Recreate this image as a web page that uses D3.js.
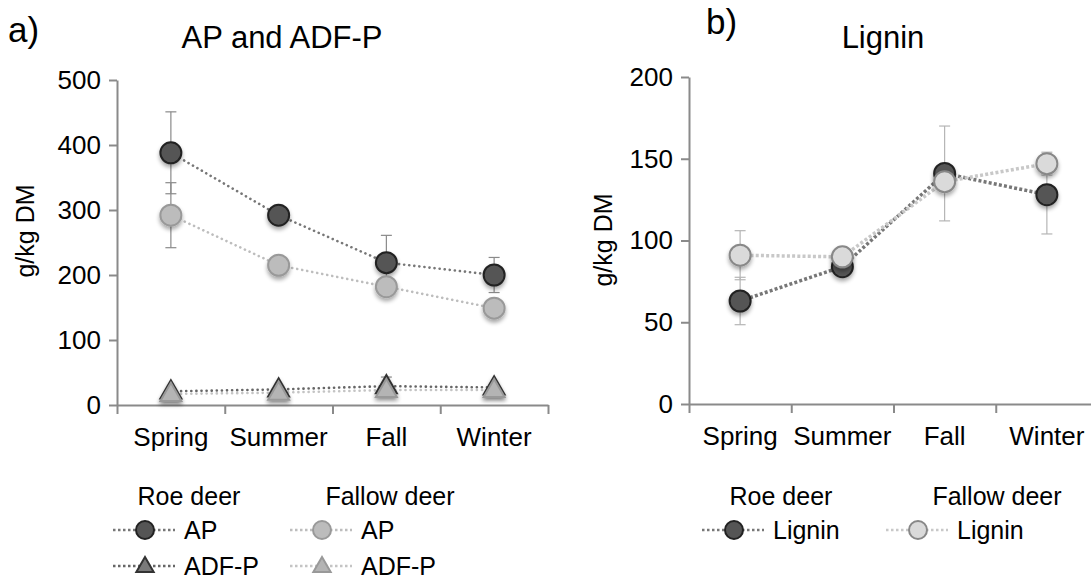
<!DOCTYPE html>
<html>
<head>
<meta charset="utf-8">
<script src="https://cdn.jsdelivr.net/npm/d3@7"></script>
<style>
  html, body { margin: 0; padding: 0; background: #fff; }
  svg { display: block; font-family: "Liberation Sans", Arial, sans-serif; }
</style>
</head>
<body>
<svg id="chart" width="1091" height="580"></svg>
<script>
// Seasonal nutrient content of roe deer and fallow deer diets (g/kg DM, mean ± SE)
const seasons = ["Spring", "Summer", "Fall", "Winter"];

const roeAP = [388, 292, 219, 200];
const roeAPse = [63, 10, 42, 27];
const fallowAP = [292, 215, 182, 149];
const fallowAPse = [50, 10, 8, 8];

const roeADFP = [21, 24, 29, 27];
const roeADFPse = [3, 4, 14, 4];
const fallowADFP = [17, 19, 23, 23];
const fallowADFPse = [3, 3, 4, 3];

const roeLignin = [63, 84, 141, 128];
const roeLigninSe = [14.5, 4, 29, 24];
const fallowLignin = [91, 90, 136, 147];
const fallowLigninSe = [15, 3, 6, 7];

const ticksA = [0, 100, 200, 300, 400, 500];
const ticksB = [0, 50, 100, 150, 200];

const svg = d3.select("#chart");

// soft shadow under the markers
const defs = svg.append("defs");
const f = defs.append("filter").attr("id", "shadow")
  .attr("x", "-50%").attr("y", "-50%").attr("width", "200%").attr("height", "220%");
f.append("feGaussianBlur").attr("in", "SourceAlpha").attr("stdDeviation", 2).attr("result", "b");
f.append("feOffset").attr("in", "b").attr("dy", 3).attr("result", "o");
f.append("feComponentTransfer").attr("in", "o").attr("result", "s")
  .append("feFuncA").attr("type", "linear").attr("slope", 0.35);
const fm = f.append("feMerge");
fm.append("feMergeNode").attr("in", "s");
fm.append("feMergeNode").attr("in", "SourceGraphic");

const triangle = d3.symbol().type(d3.symbolTriangle).size(190);
const triangleLegend = d3.symbol().type(d3.symbolTriangle).size(130);

function panel(cfg) {
  const g = svg.append("g");
  const x = d3.scaleBand().domain(seasons).range([cfg.x0, cfg.x1]).padding(0);
  const xb = d3.scaleLinear().domain([0, seasons.length]).range([cfg.x0, cfg.x1]);
  const y = d3.scaleLinear().domain([0, cfg.ymax]).range([cfg.y0, cfg.y1]);
  const cx = d => x(d) + x.bandwidth() / 2;

  // y axis
  const ya = g.append("g").attr("transform", `translate(${cfg.x0},0)`)
    .call(d3.axisLeft(y).tickValues(cfg.ticks).tickSize(8).tickPadding(8).tickSizeOuter(0));
  ya.select(".domain").attr("stroke", "#8a8a8a").attr("stroke-width", 2);
  ya.selectAll(".tick line").attr("stroke", "#8a8a8a").attr("stroke-width", 2);
  ya.selectAll(".tick text").attr("fill", "#000").attr("font-size", 26)
    .attr("font-family", "Liberation Sans, Arial, sans-serif");

  // x axis: tick marks at category boundaries, labels at centres
  const xa = g.append("g").attr("transform", `translate(0,${cfg.y0})`)
    .call(d3.axisBottom(xb).tickValues(d3.range(seasons.length + 1)).tickSize(9).tickFormat("").tickSizeOuter(0));
  xa.select(".domain").attr("stroke", "#8a8a8a").attr("stroke-width", 2);
  xa.selectAll(".tick line").attr("stroke", "#8a8a8a").attr("stroke-width", 2);
  g.append("g").selectAll("text").data(seasons).join("text")
    .attr("x", d => cx(d)).attr("y", cfg.y0 + 41)
    .attr("text-anchor", "middle").attr("font-size", 26).text(d => d);

  // y axis title
  g.append("text")
    .attr("transform", `translate(${cfg.ylabX},${cfg.ylabY}) rotate(-90)`)
    .attr("text-anchor", "middle").attr("font-size", 25).text("g/kg DM");

  // panel letter and title
  g.append("text").attr("x", cfg.letterX).attr("y", cfg.letterY)
    .attr("font-size", 35).text(cfg.letter);
  g.append("text").attr("x", cfg.titleX).attr("y", 48)
    .attr("text-anchor", "middle").attr("font-size", 31).text(cfg.title);

  const line = d3.line().x((d, i) => cx(seasons[i])).y(d => y(d));

  // error bars
  cfg.series.forEach(s => {
    const eb = g.append("g").attr("stroke", cfg.errColor).attr("stroke-width", 1.2);
    s.values.forEach((v, i) => {
      const e = s.se[i];
      const px = cx(seasons[i]);
      eb.append("line").attr("x1", px).attr("x2", px).attr("y1", y(v - e)).attr("y2", y(v + e));
      [v - e, v + e].forEach(w => eb.append("line")
        .attr("x1", px - 5.5).attr("x2", px + 5.5).attr("y1", y(w)).attr("y2", y(w)));
    });
  });

  // series lines and markers
  cfg.series.forEach(s => {
    g.append("path").datum(s.values).attr("d", line)
      .attr("fill", "none").attr("stroke", s.lineColor)
      .attr("stroke-width", cfg.lineWidth).attr("stroke-dasharray", cfg.dash)
      .attr("stroke-linecap", cfg.cap);
  });
  cfg.series.forEach(s => {
    const mg = g.append("g").attr("filter", "url(#shadow)");
    s.values.forEach((v, i) => {
      const px = cx(seasons[i]);
      if (s.shape === "circle") {
        mg.append("circle").attr("cx", px).attr("cy", y(v)).attr("r", 10.5)
          .attr("fill", s.fill).attr("stroke", s.stroke).attr("stroke-width", 2);
      } else {
        mg.append("path").attr("d", triangle)
          .attr("transform", `translate(${px},${y(v) + 1})`)
          .attr("fill", s.fill).attr("stroke", s.stroke).attr("stroke-width", 2);
      }
    });
  });

  // legend
  const lg = g.append("g");
  cfg.legendHeads.forEach(h => lg.append("text").attr("x", h.x).attr("y", 505)
    .attr("text-anchor", "middle").attr("font-size", 25).text(h.text));
  cfg.legendRows.forEach(r => {
    lg.append("line").attr("x1", r.x).attr("x2", r.x + 62).attr("y1", r.y).attr("y2", r.y)
      .attr("stroke", r.s.lineColor).attr("stroke-width", 2.5)
      .attr("stroke-dasharray", "2.5,2.5");
    const mx = r.x + 32;
    if (r.s.shape === "circle") {
      lg.append("circle").attr("cx", mx).attr("cy", r.y).attr("r", 9)
        .attr("fill", r.s.fill).attr("stroke", r.s.stroke).attr("stroke-width", 2);
    } else {
      lg.append("path").attr("d", triangleLegend).attr("transform", `translate(${mx},${r.y + 1})`)
        .attr("fill", r.s.fill).attr("stroke", r.s.stroke).attr("stroke-width", 2);
    }
    lg.append("text").attr("x", r.x + 71).attr("y", r.y + 9).attr("font-size", 25).text(r.label);
  });
}

// a) AP and ADF-P
const sRoeAP = { values: roeAP, se: roeAPse, shape: "circle", fill: "#555", stroke: "#222", lineColor: "#777" };
const sFallowAP = { values: fallowAP, se: fallowAPse, shape: "circle", fill: "#bcbcbc", stroke: "#999", lineColor: "#bdbdbd" };
const sRoeADF = { values: roeADFP, se: roeADFPse, shape: "tri", fill: "#7a7a7a", stroke: "#333", lineColor: "#666" };
const sFallowADF = { values: fallowADFP, se: fallowADFPse, shape: "tri", fill: "#b4b4b4", stroke: "#999", lineColor: "#c4c4c4" };

panel({
  x0: 117, x1: 548, y0: 405, y1: 80, ymax: 500, ticks: ticksA,
  ylabX: 34, ylabY: 231, letter: "a)", letterX: 8, letterY: 42,
  title: "AP and ADF-P", titleX: 282,
  errColor: "#8a8a8a", lineWidth: 2.6, dash: "0.1,5", cap: "round",
  series: [sRoeAP, sFallowAP, sRoeADF, sFallowADF],
  legendHeads: [{ x: 189, text: "Roe deer" }, { x: 390, text: "Fallow deer" }],
  legendRows: [
    { x: 113, y: 530, s: sRoeAP, label: "AP" },
    { x: 290, y: 530, s: sFallowAP, label: "AP" },
    { x: 113, y: 566, s: sRoeADF, label: "ADF-P" },
    { x: 290, y: 566, s: sFallowADF, label: "ADF-P" }
  ]
});

// b) Lignin
const sRoeL = { values: roeLignin, se: roeLigninSe, shape: "circle", fill: "#555", stroke: "#222", lineColor: "#777" };
const sFallowL = { values: fallowLignin, se: fallowLigninSe, shape: "circle", fill: "#dadada", stroke: "#888", lineColor: "#c8c8c8" };

panel({
  x0: 689, x1: 1098, y0: 404, y1: 77, ymax: 200, ticks: ticksB,
  ylabX: 612, ylabY: 240, letter: "b)", letterX: 706, letterY: 34,
  title: "Lignin", titleX: 883,
  errColor: "#b5b5b5", lineWidth: 3.5, dash: "3,2.2", cap: "butt",
  series: [sRoeL, sFallowL],
  legendHeads: [{ x: 781, text: "Roe deer" }, { x: 997, text: "Fallow deer" }],
  legendRows: [
    { x: 702, y: 530, s: sRoeL, label: "Lignin" },
    { x: 886, y: 530, s: sFallowL, label: "Lignin" }
  ]
});
</script>
</body>
</html>
